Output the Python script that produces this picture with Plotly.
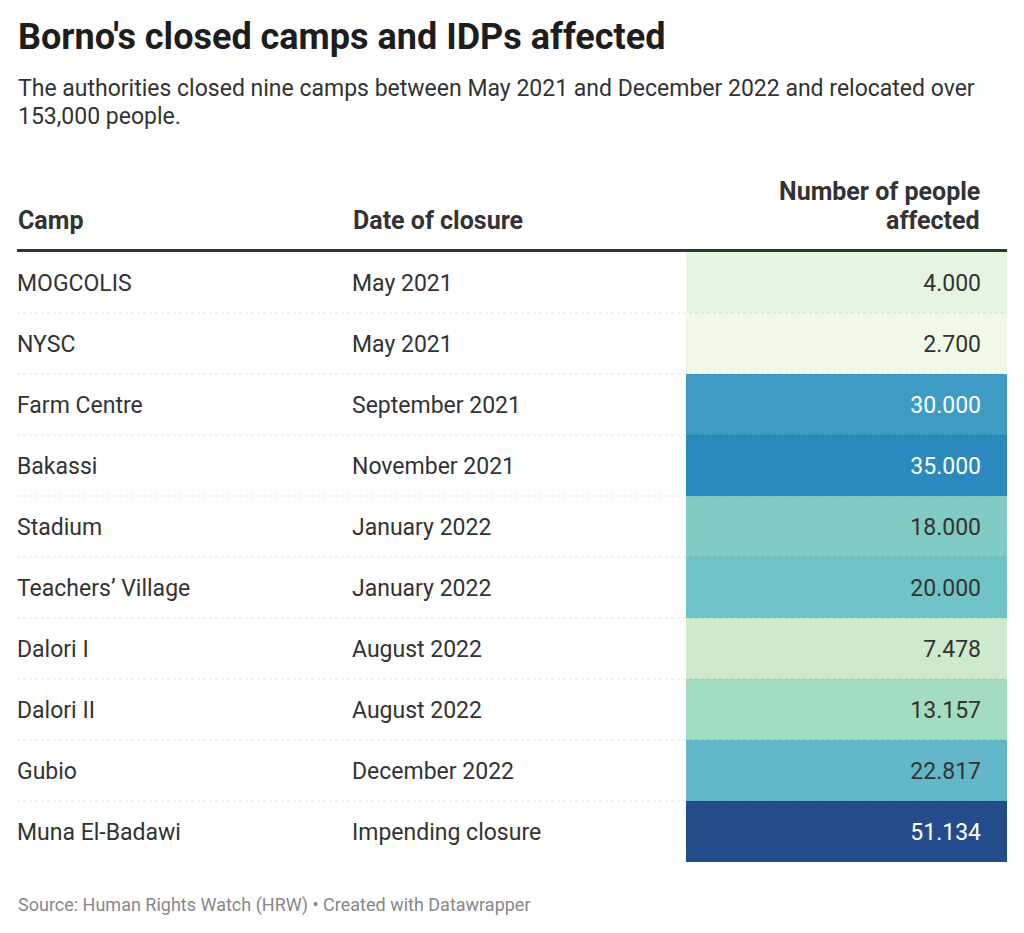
import plotly.graph_objects as go

# table data
camps = ["MOGCOLIS", "NYSC", "Farm Centre", "Bakassi", "Stadium",
         "Teachers’ Village", "Dalori I", "Dalori II", "Gubio", "Muna El-Badawi"]
closure_dates = ["May 2021", "May 2021", "September 2021", "November 2021",
                 "January 2022", "January 2022", "August 2022", "August 2022",
                 "December 2022", "Impending closure"]
people_affected = [4000, 2700, 30000, 35000, 18000, 20000, 7478, 13157, 22817, 51134]

W, H = 1024, 933
PAGE = 8  # default body margin of the html page
FONT = "Roboto"

# pixel layout of the table (page coordinates)
ROW_TOP, ROW_BOTTOM = 252, 862
TEXT_SHIFT = 3  # svg text sits a little high in plotly, nudge it down
X_CAMP, X_DATE, X_NUM = 17, 352, 981
CELL_X0, CELL_X1 = 686, 1007

# GnBu-like scale sampled from the reference cells
colorscale = [
    [0.0, "#f0f9e8"],
    [0.03, "#e5f5e0"],
    [0.10, "#cdebcc"],
    [0.22, "#a3dbc0"],
    [0.32, "#7fcac3"],
    [0.36, "#6fc3c7"],
    [0.42, "#61b7c9"],
    [0.56, "#3f9cc6"],
    [0.67, "#2a88bd"],
    [1.0, "#244b8b"],
]


def py(px):
    # page pixel row -> paper y
    return 1 - (px - PAGE) / (H - PAGE)


def pxx(px):
    return (px - PAGE) / (W - PAGE)


def fmt(v):
    return f"{v:,}".replace(",", ".")


fig = go.Figure()

fig.add_trace(go.Heatmap(
    x=[CELL_X0, CELL_X1],
    y=camps,
    z=[[v] for v in people_affected],
    colorscale=colorscale,
    zmin=min(people_affected), zmax=max(people_affected),
    showscale=False,
    hoverinfo="skip",
))

text_font = dict(family=FONT, size=23, color="#333333")

fig.add_trace(go.Scatter(
    x=[X_CAMP] * len(camps), y=camps, text=camps, yaxis="y2",
    mode="text", textposition="middle right", textfont=text_font,
    hoverinfo="skip",
))

fig.add_trace(go.Scatter(
    x=[X_DATE] * len(camps), y=camps, text=closure_dates, yaxis="y2",
    mode="text", textposition="middle right", textfont=text_font,
    hoverinfo="skip",
))

fig.add_trace(go.Scatter(
    x=[X_NUM] * len(camps), y=camps, text=[fmt(v) for v in people_affected], yaxis="y2",
    mode="text", textposition="middle left",
    textfont=dict(family=FONT, size=23,
                  color=["#ffffff" if v >= 30000 else "#333333" for v in people_affected]),
    hoverinfo="skip",
))

# row separators
shapes = []
for i in range(len(camps) - 1):
    shapes.append(dict(type="line", xref="x", yref="y", x0=X_CAMP, x1=CELL_X1,
                       y0=i + 0.5, y1=i + 0.5, layer="above",
                       line=dict(color="rgba(0,0,0,0.10)", width=1, dash="dot")))
# header rule
shapes.append(dict(type="line", xref="x", yref="paper", x0=X_CAMP, x1=CELL_X1,
                   y0=py(250.5), y1=py(250.5), line=dict(color="#333333", width=3)))

annotations = [
    dict(text="<b>Borno's closed camps and IDPs affected</b>", x=pxx(X_CAMP - 1), y=py(37),
         font=dict(family=FONT, size=36, color="#1d1d1d")),
    dict(text="The authorities closed nine camps between May 2021 and December 2022 and relocated over",
         x=pxx(X_CAMP - 1), y=py(88), font=dict(family=FONT, size=23, color="#333333")),
    dict(text="153,000 people.", x=pxx(X_CAMP - 1), y=py(116),
         font=dict(family=FONT, size=23, color="#333333")),
    dict(text="<b>Camp</b>", x=pxx(X_CAMP - 1), y=py(221),
         font=dict(family=FONT, size=25, color="#333333")),
    dict(text="<b>Date of closure</b>", x=pxx(X_DATE - 1), y=py(221),
         font=dict(family=FONT, size=25, color="#333333")),
    dict(text="<b>Number of people</b>", x=pxx(X_NUM + 1), y=py(192), xanchor="right",
         font=dict(family=FONT, size=25, color="#333333")),
    dict(text="<b>affected</b>", x=pxx(X_NUM + 1), y=py(221), xanchor="right",
         font=dict(family=FONT, size=25, color="#333333")),
    dict(text="Source: Human Rights Watch (HRW) • Created with Datawrapper",
         x=pxx(X_CAMP - 1), y=py(905), font=dict(family=FONT, size=18, color="#888888")),
]
for a in annotations:
    a.setdefault("xanchor", "left")
    a.update(xref="paper", yref="paper", yanchor="middle", showarrow=False)

fig.update_layout(
    width=W - PAGE, height=H - PAGE,
    margin=dict(l=0, r=0, t=0, b=0),
    paper_bgcolor="white", plot_bgcolor="rgba(0,0,0,0)",
    showlegend=False,
    xaxis=dict(range=[PAGE, W], visible=False, fixedrange=True),
    yaxis=dict(domain=[py(ROW_BOTTOM), py(ROW_TOP)], autorange="reversed",
               visible=False, fixedrange=True, type="category"),
    yaxis2=dict(domain=[py(ROW_BOTTOM + TEXT_SHIFT), py(ROW_TOP + TEXT_SHIFT)],
                autorange="reversed", visible=False, fixedrange=True,
                type="category", anchor="x"),
    shapes=shapes,
    annotations=annotations,
)

fig.write_html("out.html", config={"displayModeBar": False})
